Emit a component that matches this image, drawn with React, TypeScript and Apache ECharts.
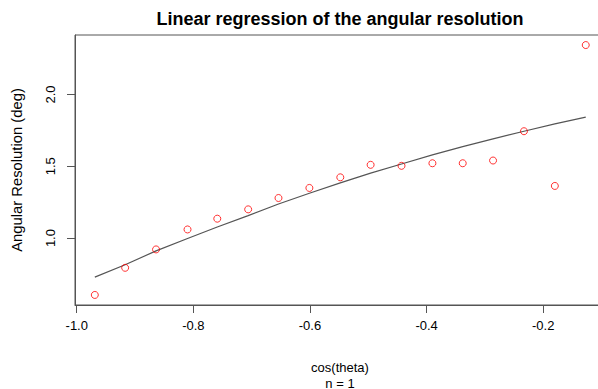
import React, { useEffect, useRef } from "react";
import * as echarts from "echarts";

const cosTheta = [-0.969, -0.917, -0.864, -0.81, -0.759, -0.706, -0.654, -0.601, -0.548, -0.496, -0.443, -0.39, -0.338, -0.286, -0.233, -0.18, -0.127];
const resolution = [0.604, 0.793, 0.921, 1.06, 1.135, 1.2, 1.279, 1.349, 1.423, 1.51, 1.503, 1.521, 1.521, 1.54, 1.744, 1.363, 2.344];
const fitted = [0.728, 0.814, 0.911, 0.997, 1.077, 1.156, 1.237, 1.312, 1.384, 1.452, 1.516, 1.579, 1.637, 1.691, 1.744, 1.795, 1.842];
const xTicks = [-1.0, -0.8, -0.6, -0.4, -0.2];
const yTicks = [1.0, 1.5, 2.0];

const FONT = "'Liberation Sans', Arial, sans-serif";

export default function App() {
  const ref = useRef<HTMLDivElement>(null);
  useEffect(() => {
    if (!ref.current) return;
    const chart = echarts.init(ref.current, null, { renderer: "svg" });
    chart.setOption({
      animation: false,
      backgroundColor: "#ffffff",
      grid: {
        left: 75,
        top: 35,
        width: 530,
        height: 270,
        show: true,
        borderColor: "#555555",
        borderWidth: 1,
        backgroundColor: "transparent",
        outerBoundsMode: "none",
        containLabel: false,
      },
      graphic: [
        {
          type: "text",
          x: 340,
          y: 19,
          style: {
            text: "Linear regression of the angular resolution",
            font: `bold 18px ${FONT}`,
            fill: "#000000",
            textAlign: "center",
            textVerticalAlign: "middle",
          },
        },
      ],
      xAxis: {
        type: "value",
        min: -1.003,
        max: -0.094,
        splitLine: { show: false },
        axisLine: { show: true, onZero: false, lineStyle: { color: "#555555", width: 1 } },
        axisTick: { show: true, length: 8, customValues: xTicks, lineStyle: { color: "#555555" } },
        axisLabel: {
          customValues: xTicks,
          color: "#000000",
          fontSize: 13,
          fontFamily: FONT,
          margin: 14,
          formatter: (v: number) => v.toFixed(1),
        },
        name: "cos(theta)\nn = 1",
        nameLocation: "middle",
        nameGap: 54,
        nameTextStyle: { color: "#000000", fontSize: 13, fontFamily: FONT, lineHeight: 16 },
      },
      yAxis: {
        type: "value",
        min: 0.534,
        max: 2.414,
        splitLine: { show: false },
        axisLine: { show: true, onZero: false, lineStyle: { color: "#555555", width: 1 } },
        axisTick: { show: true, length: 8, customValues: yTicks, lineStyle: { color: "#555555" } },
        axisLabel: {
          customValues: yTicks,
          color: "#000000",
          fontSize: 13,
          fontFamily: FONT,
          rotate: 90,
          margin: 18,
          formatter: (v: number) => v.toFixed(1),
        },
        name: "Angular Resolution (deg)",
        nameLocation: "middle",
        nameRotate: 90,
        nameGap: 51,
        nameTextStyle: { color: "#000000", fontSize: 14.8, fontFamily: FONT },
      },
      series: [
        {
          type: "line",
          data: cosTheta.map((x, i) => [x, fitted[i]]),
          showSymbol: false,
          symbol: "none",
          lineStyle: { color: "#555555", width: 1.2 },
          z: 2,
        },
        {
          type: "scatter",
          data: cosTheta.map((x, i) => [x, resolution[i]]),
          symbol: "circle",
          symbolSize: 7,
          itemStyle: { color: "transparent", borderColor: "#ff0000", borderWidth: 1 },
          z: 3,
        },
      ],
    });
    return () => chart.dispose();
  }, []);
  return <div ref={ref} style={{ position: "fixed", left: 0, top: 0, width: 598, height: 389 }} />;
}
